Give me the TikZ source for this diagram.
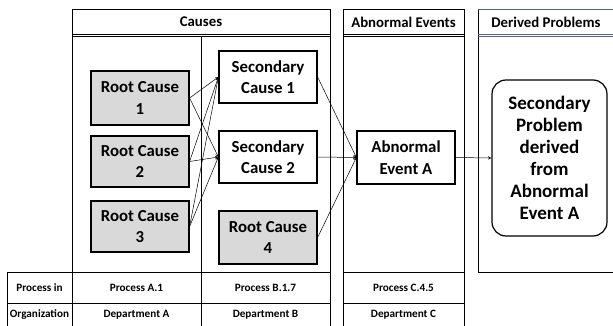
\documentclass[tikz,border=0pt]{standalone}
\usepackage{fontspec}
\setmainfont{Carlito}
\usetikzlibrary{arrows}
\definecolor{rootgray}{RGB}{217,217,217}
\definecolor{panelblue}{RGB}{84,102,130}

\tikzset{
    box/.style={draw, line width=1.2pt, minimum width=98pt, align=center,
        inner sep=0pt, font=\bfseries\fontsize{16.8}{21.5}\selectfont},
    rootbox/.style={box, fill=rootgray},
    panel/.style={line width=0.8pt},
    header/.style={font=\bfseries\fontsize{14.8}{16}\selectfont},
    cell/.style={font=\bfseries\fontsize{11.2}{13}\selectfont},
    link/.style={->, >=stealth, line width=0.5pt}
}

\begin{document}
\begin{tikzpicture}[x=1pt, y=-1pt]
        \useasboundingbox (0, 0) rectangle (613, 326);
        % Panels
        \draw [panel] (72, 326) -- (72, 9) -- (330, 9) -- (330, 326);
        \draw [panel] (201, 36) -- (201, 326);
        \draw [panel] (72, 34) -- (330, 34);
        \draw [panel] (72, 36.5) -- (330, 36.5);
        \draw [panel] (343, 326) -- (343, 9) -- (464, 9) -- (464, 326);
        \draw [panel] (343, 34) -- (464, 34);
        \draw [panel] (343, 36.5) -- (464, 36.5);
        \draw [panel] (478, 9) -- (478, 272) -- (615, 272);
        \draw [panel, panelblue] (478, 9) -- (615, 9);
        \draw [panel, panelblue] (478, 34) -- (615, 34);
        \draw [panel, panelblue] (478, 36.5) -- (615, 36.5);
        % Table
        \draw [panel] (7, 326) -- (7, 272) -- (330, 272);
        \draw [panel] (7, 303) -- (330, 303);
        \draw [panel] (343, 272) -- (464, 272);
        \draw [panel] (343, 303) -- (464, 303);
        % Headers
        \node [header] (hcause) at (201, 22) {Causes};
        \node [header] (hevent) at (403.5, 22) {Abnormal Events};
        \node [header] (hderiv) at (546, 22) {Derived Problems};
        % Cells
        \node [cell] (procin) at (39.5, 288) {Process in};
        \node [cell] (orgn) at (39.5, 315) {Organization};
        \node [cell] (proca) at (136.5, 288) {Process A.1};
        \node [cell] (depta) at (136.5, 315) {Department A};
        \node [cell] (procb) at (265.5, 288) {Process B.1.7};
        \node [cell] (deptb) at (265.5, 315) {Department B};
        \node [cell] (procc) at (403.5, 288) {Process C.4.5};
        \node [cell] (deptc) at (403.5, 315) {Department C};
        % Boxes
        \node [rootbox, minimum height=54pt] (rc1) at (140, 98) {Root Cause\\1};
        \node [rootbox, minimum height=51pt] (rc2) at (140, 161.5) {Root Cause\\2};
        \node [rootbox, minimum height=51pt] (rc3) at (140, 226.5) {Root Cause\\3};
        \node [box, minimum height=52pt] (sc1) at (268, 77) {Secondary\\Cause 1};
        \node [box, minimum height=52pt] (sc2) at (268, 157) {Secondary\\Cause 2};
        \node [rootbox, minimum height=53pt] (rc4) at (268, 237.5) {Root Cause\\4};
        \node [box, minimum height=53pt] (aea) at (406, 157.5) {Abnormal\\Event A};
        \node [box, minimum width=115pt, minimum height=156pt, rounded corners=14pt,
            font=\bfseries\fontsize{19}{22}\selectfont] (sp) at (549.5, 158)
            {Secondary\\Problem\\derived\\from\\Abnormal\\Event A};
        % Arrows
        \foreach \s in {rc1, rc2, rc3}
            \foreach \t in {sc1, sc2}
                \draw [link] (\s.east) -- (\t.west);
        \foreach \s in {sc1, sc2, rc4}
            \draw [link] (\s.east) -- (aea.west);
        \draw [link] (aea.east) -- (sp.west);
    \end{tikzpicture}
\end{document}
